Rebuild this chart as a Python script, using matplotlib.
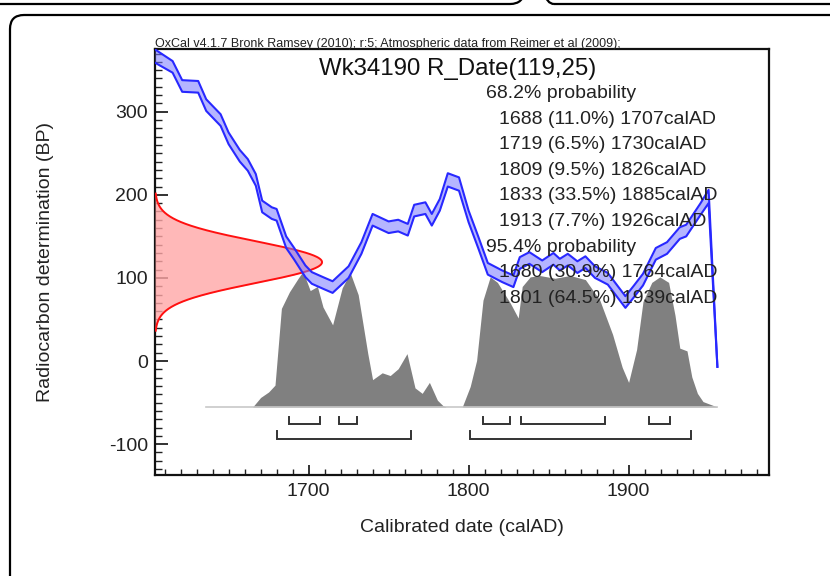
import matplotlib
matplotlib.use("Agg")
import matplotlib.pyplot as plt
from matplotlib.patches import FancyBboxPatch
from matplotlib.ticker import MultipleLocator
from matplotlib.transforms import IdentityTransform
import numpy as np

plt.rcParams['font.family'] = ['Liberation Sans', 'DejaVu Sans']
plt.rcParams['axes.unicode_minus'] = False

# Calibration curve (cal AD -> radiocarbon age BP) with 1 sigma
curve_year = [1604, 1615, 1621, 1631, 1636, 1640, 1645, 1650, 1657, 1662,
              1667, 1671, 1677, 1680, 1686, 1691, 1698, 1702, 1709, 1715,
              1725, 1733, 1740, 1750, 1756, 1762, 1766, 1773, 1777, 1782,
              1787, 1794, 1800, 1806, 1812, 1821, 1828, 1832, 1838, 1846,
              1853, 1857, 1862, 1868, 1873, 1879, 1887, 1898, 1903, 1909,
              1917, 1924, 1932, 1936, 1945, 1950, 1955.5]
curve_bp = [367, 354, 331, 330, 308, 300, 290, 268, 247, 236,
            218, 186, 178, 176, 143, 129, 108, 100, 94, 89,
            107, 136, 170, 161, 163, 158, 181, 184, 170, 188,
            218, 213, 174, 143, 111, 102, 96, 118, 124, 114,
            123, 116, 122, 113, 119, 107, 99, 71, 83, 98,
            129, 136, 154, 157, 183, 198, -7]
curve_err = [8, 7, 7, 7, 7, 7, 7, 7, 7, 7,
             7, 7, 7, 7, 7, 7, 7, 7, 7, 7,
             7, 7, 7, 7, 7, 7, 7, 7, 7, 7,
             8, 8, 7, 7, 7, 7, 7, 7, 7, 7,
             7, 7, 7, 7, 7, 7, 7, 7, 7, 7,
             7, 7, 7, 7, 7, 8, 0]

# Radiocarbon determination
sample_name = "Wk34190"
date_bp = 119
date_err = 25

# Calibrated probability distribution (relative to its maximum)
post_year = [1636, 1665, 1670, 1675, 1679, 1683, 1688, 1693.5, 1696.5, 1701,
             1705.5, 1709, 1715, 1721, 1726, 1731, 1737, 1740, 1746, 1751,
             1756, 1761.5, 1766.5, 1771, 1775.5, 1780.5, 1784, 1786, 1796, 1801,
             1805, 1809, 1813.5, 1818, 1826, 1831, 1833.5, 1838.5, 1844.5, 1854,
             1863.5, 1873, 1882, 1890, 1896, 1900, 1905, 1909, 1914.5, 1919.5,
             1925, 1929, 1932, 1936.5, 1939.5, 1943, 1946.5, 1955.5]
post_prob = [0, 0, 0.07, 0.11, 0.16, 0.72, 0.84, 0.94, 0.99, 0.85,
             0.88, 0.73, 0.60, 0.87, 0.98, 0.82, 0.39, 0.20, 0.25, 0.23,
             0.28, 0.39, 0.14, 0.10, 0.18, 0.05, 0.01, 0, 0, 0.15,
             0.34, 0.78, 0.95, 0.91, 0.76, 0.65, 0.88, 0.95, 0.96, 0.94,
             0.96, 0.93, 0.78, 0.53, 0.29, 0.18, 0.42, 0.77, 0.91, 0.95,
             0.91, 0.67, 0.43, 0.41, 0.22, 0.10, 0.04, 0]

# Highest posterior density ranges
ranges_68 = [(1688, 1707), (1719, 1730), (1809, 1826), (1833, 1885), (1913, 1926)]
pct_68 = ["11.0%", "6.5%", "9.5%", "33.5%", "7.7%"]
ranges_95 = [(1680, 1764), (1801, 1939)]
pct_95 = ["30.9%", "64.5%"]

W, H = 830, 576
fig = plt.figure(figsize=(W / 100, H / 100), dpi=100)
fig.patch.set_facecolor('white')


def fx(px):
    return px / W


def fy(py):
    return 1 - py / H


# rounded frames around the plot panels (pixel coordinates)
def panel(x0, y0, x1, y1):
    box = FancyBboxPatch((x0, H - y1), x1 - x0, y1 - y0,
                         boxstyle="round,pad=0,rounding_size=14",
                         transform=IdentityTransform(), fc='none',
                         ec='black', lw=1.6, zorder=0)
    fig.add_artist(box)


panel(-30, -60, 524, 4)
panel(540, -60, 880, 4)
panel(10, 15, 880, 620)

ax = fig.add_axes([fx(155), fy(474.7), fx(769) - fx(155), fy(49) - fy(474.7)])
x0, x1 = 1604, 1987.75
y0, y1 = -136.8, 375.5
ax.set_xlim(x0, x1)
ax.set_ylim(y0, y1)

# calibrated distribution on the date axis
base_bp = -55.4
height = 164.9
post_top = base_bp + height * np.array(post_prob)
ax.fill_between(post_year, base_bp, post_top, color='#808080', lw=0, zorder=2)
ax.plot([post_year[0], post_year[-1]], [base_bp, base_bp], color='#c8c8c8', lw=1.2, zorder=2)

# range brackets
def bracket(a, b, y, tick):
    ax.plot([a, a, b, b], [y + tick, y, y, y + tick], color='#333333', lw=1.4,
            solid_joinstyle='miter', zorder=3)


for a, b in ranges_68:
    bracket(a, b, -75.8, 8.5)
for a, b in ranges_95:
    bracket(a, b, -93.9, 9.5)

# radiocarbon determination on the BP axis
bp = np.linspace(date_bp - 3.3 * date_err, date_bp + 3.3 * date_err, 300)
amp = 104.4
rx = x0 + amp * np.exp(-0.5 * ((bp - date_bp) / date_err) ** 2)
ax.fill_betweenx(bp, x0, rx, color='#ffa6a6', alpha=0.8, lw=0, zorder=4)
ax.plot(rx, bp, color='#ff1010', lw=1.4, zorder=4)

# calibration curve band
cy = np.array(curve_year)
cb = np.array(curve_bp)
ce = np.array(curve_err)
ax.fill_between(cy, cb - ce, cb + ce, color='#7878ff', alpha=0.55, lw=0, zorder=5)
ax.plot(cy, cb + ce, color='#2828ff', lw=1.5, zorder=5)
ax.plot(cy, cb - ce, color='#2828ff', lw=1.5, zorder=5)

# axes styling
for s in ax.spines.values():
    s.set_linewidth(1.6)
    s.set_color('#111111')
ax.xaxis.set_major_locator(MultipleLocator(100))
ax.xaxis.set_minor_locator(MultipleLocator(10))
ax.yaxis.set_major_locator(MultipleLocator(100))
ax.yaxis.set_minor_locator(MultipleLocator(10))
ax.tick_params(which='both', direction='in', top=False, right=False,
               labelsize=14, colors='#222222')
ax.tick_params(axis='x', which='major', length=7, width=1.3, pad=6)
ax.tick_params(axis='x', which='minor', length=4, width=1.0)
ax.tick_params(axis='y', which='major', length=9, width=1.3, pad=5)
ax.tick_params(axis='y', which='minor', length=5, width=1.0)

# labels
fig.text(fx(462), fy(528), "Calibrated date (calAD)", fontsize=14,
         ha='center', va='center', color='#222222')
fig.text(fx(46), fy(262), "Radiocarbon determination (BP)", fontsize=14,
         ha='center', va='center', rotation=90, color='#222222')
fig.text(fx(155), fy(47), "OxCal v4.1.7 Bronk Ramsey (2010); r:5; Atmospheric data from Reimer et al (2009);",
         fontsize=9, ha='left', va='baseline', color='#222222')
fig.text(fx(458), fy(75), f"{sample_name} R_Date({date_bp},{date_err})", fontsize=17.3,
         ha='center', va='baseline', color='#111111', zorder=10)

lines = [("68.2% probability", False)]
lines += [(f"{a} ({p}) {b}calAD", True) for (a, b), p in zip(ranges_68, pct_68)]
lines += [("95.4% probability", False)]
lines += [(f"{a} ({p}) {b}calAD", True) for (a, b), p in zip(ranges_95, pct_95)]
for i, (txt, indent) in enumerate(lines):
    fig.text(fx(499 if indent else 486), fy(98 + 25.6 * i), txt, fontsize=14,
             ha='left', va='baseline', color='#222222', zorder=10)

fig.savefig("out.png", dpi=100)
